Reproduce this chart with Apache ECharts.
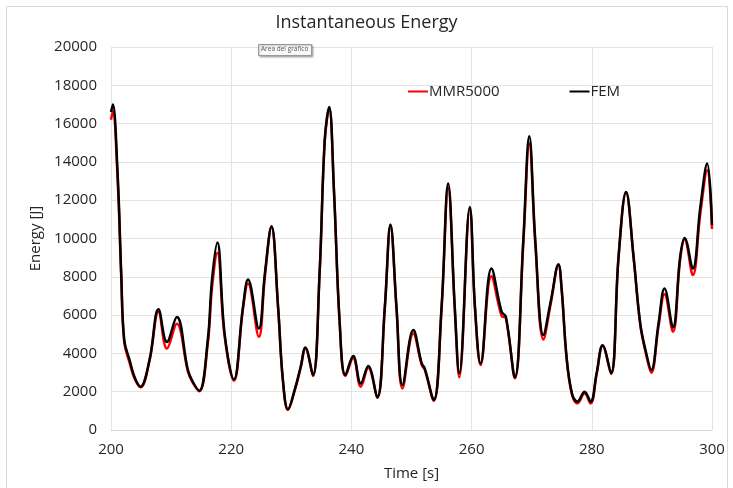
<!DOCTYPE html>
<html>
<head>
<meta charset="utf-8">
<script src="https://cdn.jsdelivr.net/npm/echarts@6/dist/echarts.min.js"></script>
<style>html,body{margin:0;padding:0;background:#fff}#c{width:733px;height:488px}</style>
</head>
<body>
<div id="c"></div>
<script>
const times = [200.0,200.3,201.1,201.7,202.2,203.1,203.9,204.9,206.4,207.9,209.3,210.95,212.8,213.6,214.7,216.1,216.8,217.7,218.9,220.45,221.95,222.8,224.6,225.6,226.7,227.8,228.6,229.45,230.56,231.56,232.34,233.6,234.7,235.56,236.3,237.1,238.06,239.0,240.3,241.56,242.8,244.3,245.56,246.5,247.5,248.5,250.3,251.7,252.2,253.7,255.0,256.1,257.2,257.95,259.7,260.56,261.5,263.3,265.0,265.7,267.2,268.6,269.6,270.6,271.95,273.2,274.45,275.0,275.8,276.7,277.6,278.8,279.8,280.8,281.8,283.2,284.45,285.7,286.95,288.06,289.0,289.9,291.1,292.1,293.5,294.7,295.45,296.8,298.06,299.2,300.0];
const fem = [16600,17000,13400,8200,4700,3650,2780,2260,3650,6300,4600,5900,3130,2520,2050,4700,7830,9790,5050,2640,6400,7860,5300,8170,10640,6430,2610,1080,2090,3300,4310,2870,8170,15130,16870,12520,5560,2870,3860,2430,3340,1700,6430,10730,6430,2350,5220,3480,3220,1565,6430,12870,6430,2960,11650,6430,3480,8430,6170,5910,2750,9910,15340,9910,4960,6780,8660,7300,3830,1910,1480,2000,1480,2960,4430,2960,9040,12430,9040,5560,4090,3130,5560,7390,5360,9040,10030,8430,11650,13910,10700];
const mmr = [16200,16650,13100,8000,4600,3500,2700,2230,3600,6170,4250,5550,3050,2480,2030,4500,7400,9250,4900,2570,6300,7650,4870,8000,10600,6400,2600,1050,2050,3250,4250,2820,8100,15050,16800,12450,5500,2820,3750,2260,3250,1680,6350,10650,6350,2170,5040,3400,3150,1530,6300,12650,6300,2750,11550,6350,3390,8030,5950,5850,2700,9700,14960,9700,4730,6650,8600,7250,3750,1850,1390,1900,1390,2900,4400,2930,9000,12400,9000,5500,4000,2990,5400,7090,5130,8900,9950,8090,11300,13560,10500];
const yTicks = {min:0, max:20000, step:2000};
const xTicks = {min:200, max:300, step:20};
const seriesNames = ['MMR5000','FEM'];

const font = 'Open Sans';
const chart = echarts.init(document.getElementById('c'));
chart.setOption({
  animation:false,
  backgroundColor:'#fff',
  title:{text:'Instantaneous Energy', left:'center', top:9, textStyle:{fontFamily:font, fontSize:18, fontWeight:'normal', color:'#262626'}},
  legend:{data:seriesNames, left:403, top:79, icon:'rect', itemWidth:20, itemHeight:2, itemGap:70,
    textStyle:{fontFamily:font, fontSize:15, color:'#262626', padding:[0,0,0,-4]}},
  grid:{left:111, right:21, top:47, bottom:58, containLabel:false},
  xAxis:{type:'value', min:xTicks.min, max:xTicks.max, interval:xTicks.step,
    name:'Time [s]', nameLocation:'middle', nameGap:36, nameTextStyle:{fontFamily:font, fontSize:15, color:'#262626'},
    axisLine:{lineStyle:{color:'#d9d9d9'}}, axisTick:{show:false},
    axisLabel:{fontFamily:font, fontSize:15, color:'#262626', margin:12},
    splitLine:{show:true, lineStyle:{color:'#e3e3e3'}}},
  yAxis:{type:'value', min:yTicks.min, max:yTicks.max, interval:yTicks.step,
    name:'Energy [J]', nameLocation:'middle', nameGap:66, nameTextStyle:{fontFamily:font, fontSize:15, color:'#262626'},
    axisLine:{show:false}, axisTick:{show:false},
    axisLabel:{fontFamily:font, fontSize:15, color:'#262626', margin:14, formatter:v=>String(v)},
    splitLine:{show:true, lineStyle:{color:'#e3e3e3'}}},
  graphic:[
    {type:'rect', shape:{x:6.5,y:6.5,width:721,height:490}, style:{fill:'none', stroke:'#d9d9d9', lineWidth:1}, silent:true},
    {type:'rect', shape:{x:258.5,y:44.5,width:53,height:11}, style:{fill:'#fafafa', stroke:'#9a9a9a', lineWidth:1, shadowBlur:2, shadowColor:'rgba(0,0,0,0.3)', shadowOffsetX:1, shadowOffsetY:1}, z:100},
    {type:'text', left:261, top:46, style:{text:'Área del gráfico', font:'6.5px "Open Sans"', fill:'#555'}, z:101}
  ],
  series:[
    {name:seriesNames[0], type:'line', data:times.map((t,i)=>[t,mmr[i]]), smooth:0.4, showSymbol:false, symbol:'none', lineStyle:{color:'#ff0000', width:2.5}, itemStyle:{color:'#ff0000'}},
    {name:seriesNames[1], type:'line', data:times.map((t,i)=>[t,fem[i]]), smooth:0.4, showSymbol:false, symbol:'none', lineStyle:{color:'#000000', width:2.5}, itemStyle:{color:'#000000'}}
  ]
});
</script>
</body>
</html>
